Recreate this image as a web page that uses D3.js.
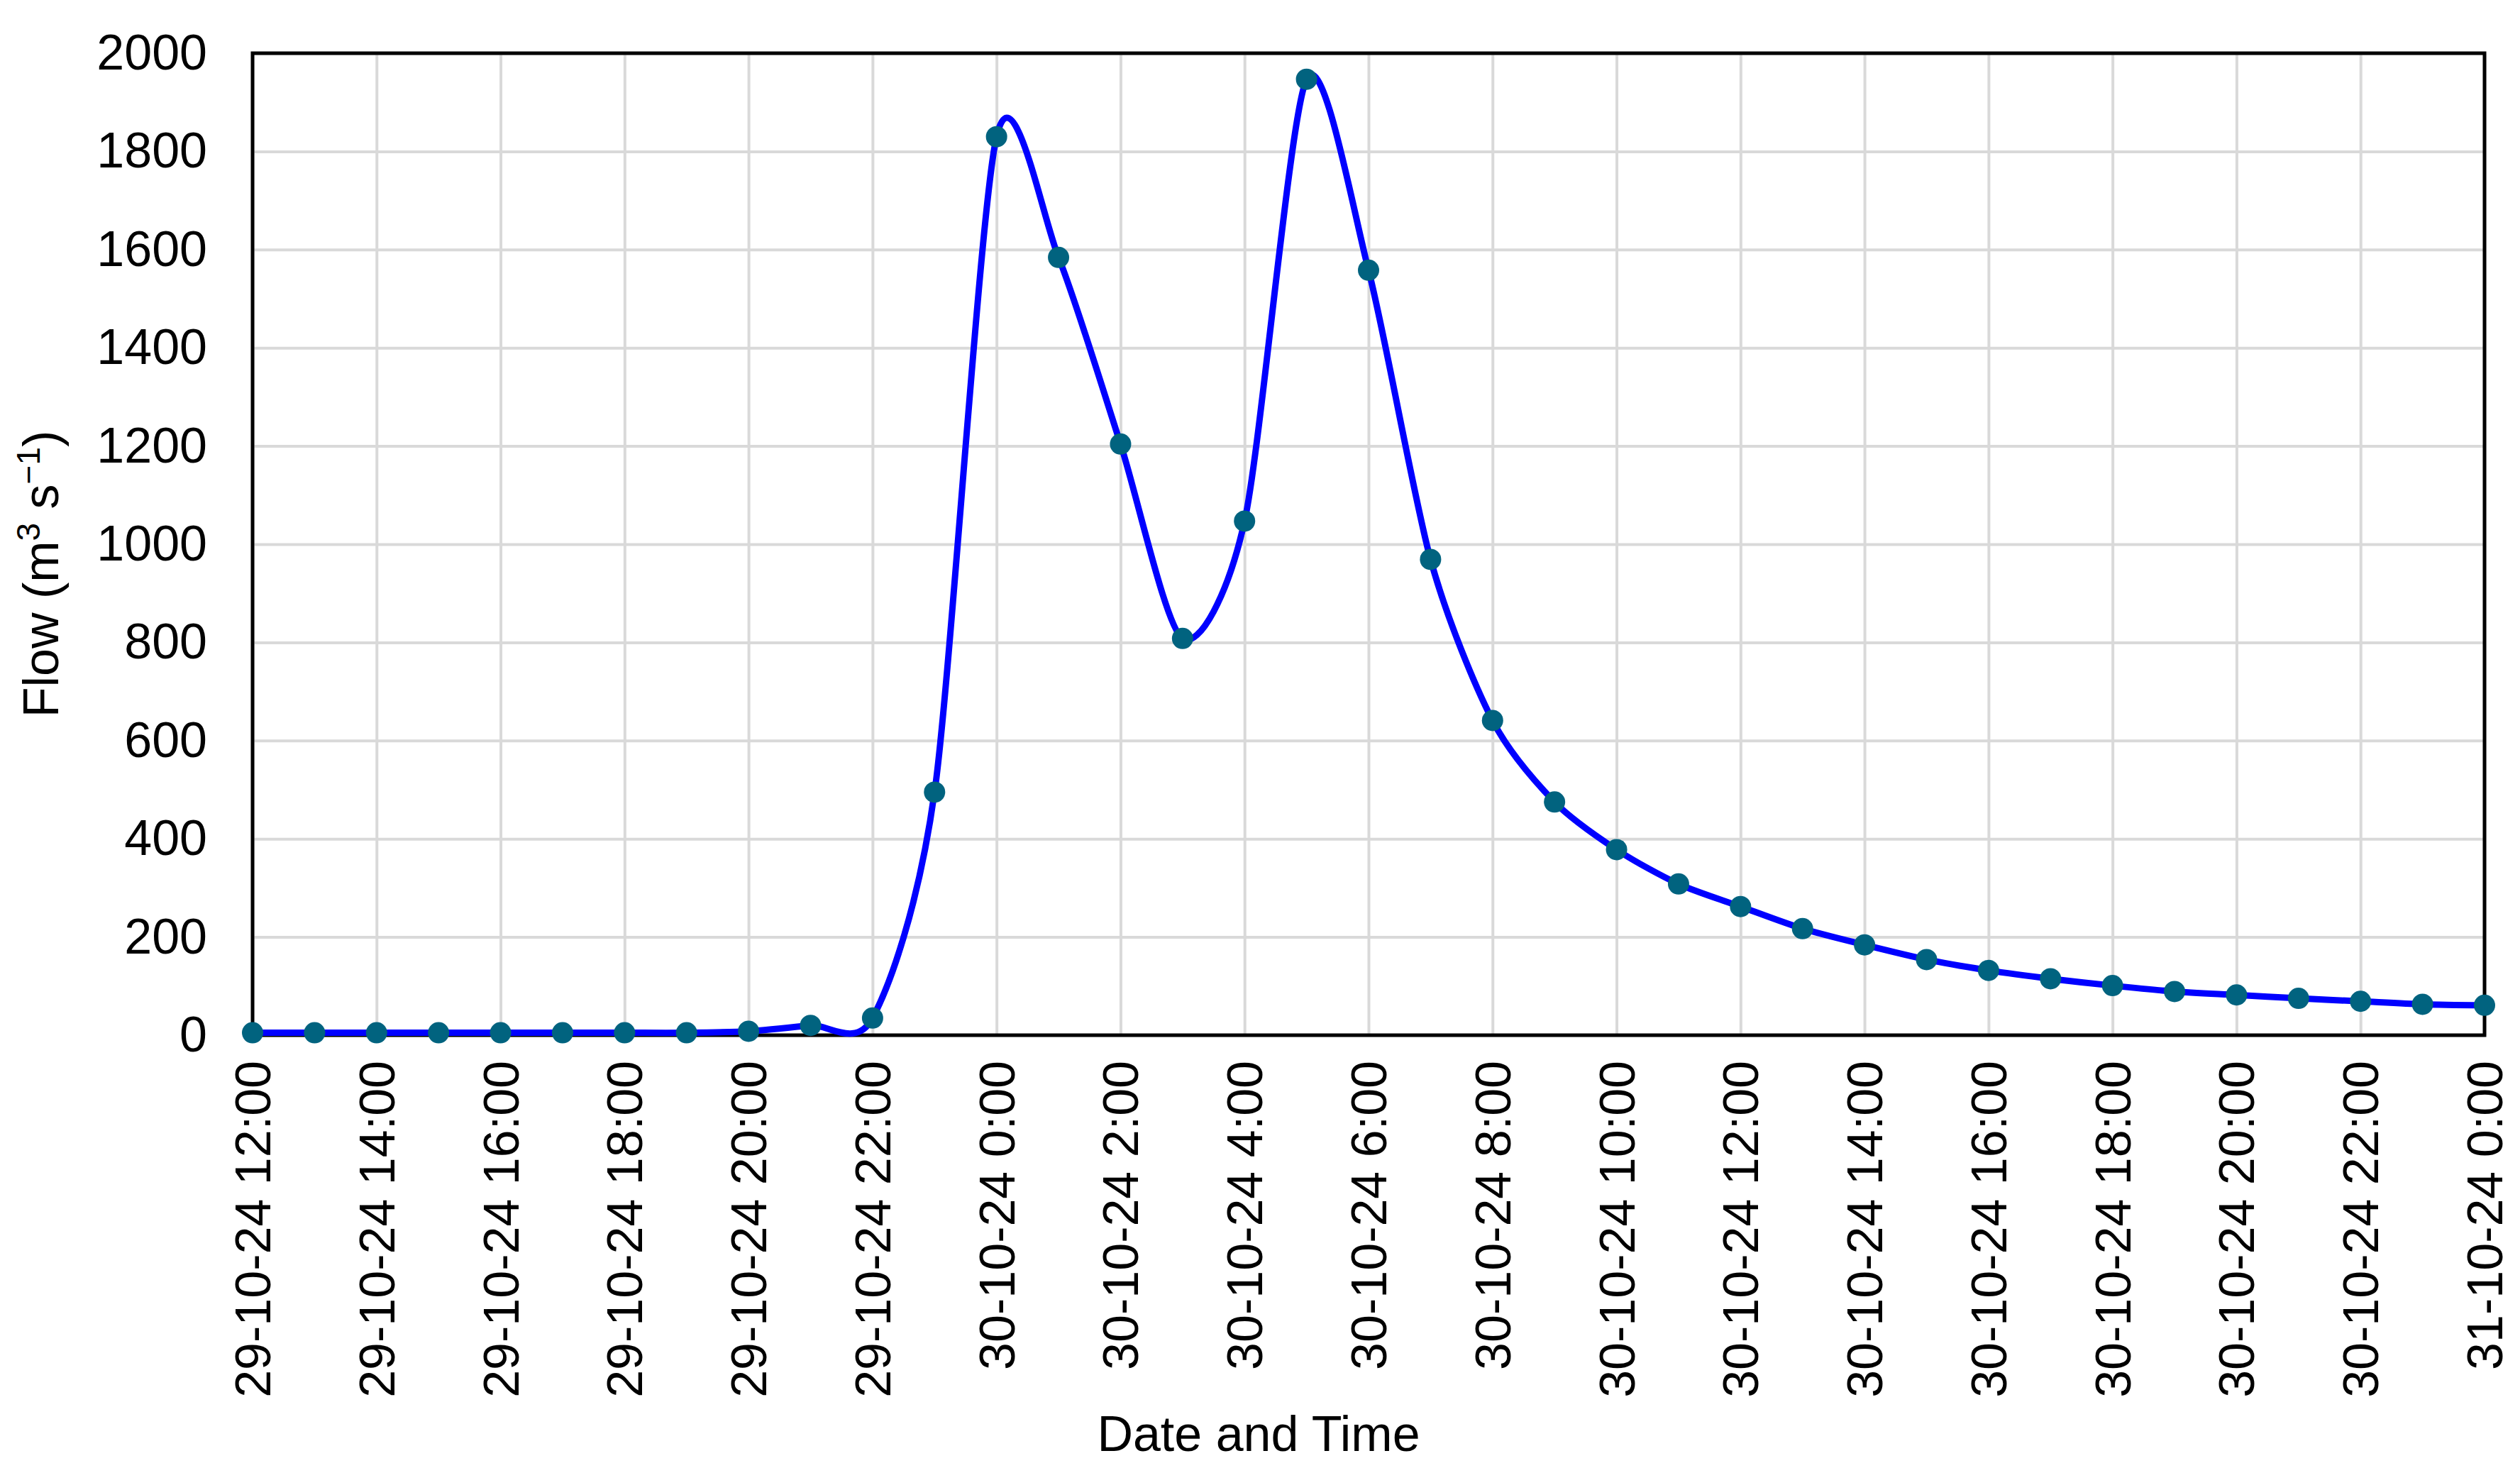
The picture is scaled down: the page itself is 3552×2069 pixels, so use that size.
<!DOCTYPE html>
<html>
<head>
<meta charset="utf-8">
<script src="https://cdn.jsdelivr.net/npm/d3@7"></script>
<style>
  body { margin: 0; background: #fff; }
  text { font-family: "Liberation Sans", Arial, sans-serif; fill: #000; }
</style>
</head>
<body>
<script>
// hourly timestamps of the hydrograph
var times = [
  "2024-10-29 12:00", "2024-10-29 13:00", "2024-10-29 14:00", "2024-10-29 15:00",
  "2024-10-29 16:00", "2024-10-29 17:00", "2024-10-29 18:00", "2024-10-29 19:00",
  "2024-10-29 20:00", "2024-10-29 21:00", "2024-10-29 22:00", "2024-10-29 23:00",
  "2024-10-30 00:00", "2024-10-30 01:00", "2024-10-30 02:00", "2024-10-30 03:00",
  "2024-10-30 04:00", "2024-10-30 05:00", "2024-10-30 06:00", "2024-10-30 07:00",
  "2024-10-30 08:00", "2024-10-30 09:00", "2024-10-30 10:00", "2024-10-30 11:00",
  "2024-10-30 12:00", "2024-10-30 13:00", "2024-10-30 14:00", "2024-10-30 15:00",
  "2024-10-30 16:00", "2024-10-30 17:00", "2024-10-30 18:00", "2024-10-30 19:00",
  "2024-10-30 20:00", "2024-10-30 21:00", "2024-10-30 22:00", "2024-10-30 23:00",
  "2024-10-31 00:00"
];

// flow in m3/s
var flows = [
  5, 5, 5, 5, 5, 5, 5, 5,
  8, 20, 35, 495,
  1830, 1584, 1204, 808, 1047, 1947, 1558, 969,
  641, 475, 378, 308, 262, 217, 184, 154,
  132, 115, 101, 89, 82, 75, 69, 63,
  61
];

var yTicks = [0, 200, 400, 600, 800, 1000, 1200, 1400, 1600, 1800, 2000];

var svgWidth = 3552;
var svgHeight = 2069;

var margin = { top: 75, right: 50, bottom: 610, left: 356 };
var chartWidth = svgWidth - margin.left - margin.right;
var chartHeight = svgHeight - margin.top - margin.bottom;

var parseTime = d3.utcParse("%Y-%m-%d %H:%M");
var formatTime = d3.utcFormat("%d-%m-%y %-H:%M");

var data = times.map(function(t, i) {
  return { date: parseTime(t), flow: flows[i] };
});

var svg = d3.select("body")
  .append("svg")
  .attr("width", svgWidth)
  .attr("height", svgHeight);

var chartGroup = svg.append("g")
  .attr("transform", `translate(${margin.left}, ${margin.top})`);

var xTimeScale = d3.scaleUtc()
  .domain(d3.extent(data, d => d.date))
  .range([0, chartWidth]);

var yLinearScale = d3.scaleLinear()
  .domain([0, 2000])
  .range([chartHeight, 0]);

var xTicks = d3.utcHour.every(2).range(xTimeScale.domain()[0], d3.utcMinute.offset(xTimeScale.domain()[1], 1));

// y axis with gridlines
var leftAxis = d3.axisLeft(yLinearScale)
  .tickValues(yTicks)
  .tickFormat(d3.format("d"))
  .tickSizeInner(-chartWidth)
  .tickSizeOuter(0)
  .tickPadding(64);

var yAxisG = chartGroup.append("g").call(leftAxis);
yAxisG.select(".domain").remove();
yAxisG.selectAll("line").attr("stroke", "#d9d9d9").attr("stroke-width", 4);
yAxisG.selectAll("text")
  .style("font-size", "70px")
  .style("font-family", "'Liberation Sans', Arial, sans-serif")
  .attr("fill", "#000");

// x axis with gridlines, rotated labels
var bottomAxis = d3.axisBottom(xTimeScale)
  .tickValues(xTicks)
  .tickFormat(formatTime)
  .tickSizeInner(-chartHeight)
  .tickSizeOuter(0);

var xAxisG = chartGroup.append("g")
  .attr("transform", `translate(0, ${chartHeight})`)
  .call(bottomAxis);
xAxisG.select(".domain").remove();
xAxisG.selectAll("line").attr("stroke", "#d9d9d9").attr("stroke-width", 4);
xAxisG.selectAll("text")
  .attr("transform", "rotate(-90)")
  .attr("text-anchor", "end")
  .attr("x", -36)
  .attr("y", 0)
  .attr("dy", "0.35em")
  .style("font-size", "70px")
  .style("font-family", "'Liberation Sans', Arial, sans-serif")
  .attr("fill", "#000");

// plot frame
chartGroup.append("rect")
  .attr("x", 0)
  .attr("y", 0)
  .attr("width", chartWidth)
  .attr("height", chartHeight)
  .attr("fill", "none")
  .attr("stroke", "#000")
  .attr("stroke-width", 5);

// smoothed line (a bit tighter than plain Catmull-Rom)
var drawLine = d3.line()
  .x(d => xTimeScale(d.date))
  .y(d => yLinearScale(d.flow))
  .curve(d3.curveCardinal.tension(0.2));

chartGroup.append("path")
  .attr("d", drawLine(data))
  .attr("stroke", "#0000ff")
  .attr("stroke-width", 9)
  .attr("stroke-linejoin", "round")
  .attr("fill", "none");

chartGroup.selectAll("circle")
  .data(data)
  .enter()
  .append("circle")
  .attr("cx", d => xTimeScale(d.date))
  .attr("cy", d => yLinearScale(d.flow))
  .attr("r", 15)
  .attr("fill", "#01637f");

// axis titles
svg.append("text")
  .attr("x", 1774)
  .attr("y", 2045)
  .attr("text-anchor", "middle")
  .style("font-size", "70px")
  .text("Date and Time");

var yTitle = svg.append("text")
  .attr("transform", "translate(82, 809) rotate(-90)")
  .attr("text-anchor", "middle")
  .style("font-size", "70px");
yTitle.append("tspan").text("Flow (m");
yTitle.append("tspan").attr("baseline-shift", "super").style("font-size", "46px").text("3");
yTitle.append("tspan").text(" s");
yTitle.append("tspan").attr("baseline-shift", "super").style("font-size", "46px").text("\u22121");
yTitle.append("tspan").text(")");
</script>
</body>
</html>
